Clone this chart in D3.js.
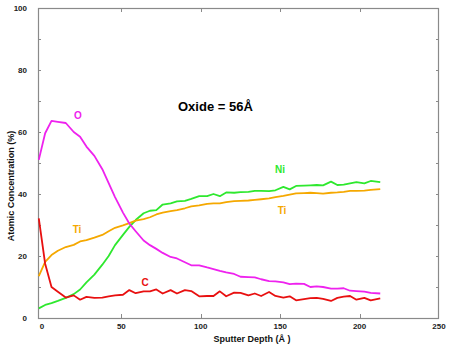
<!DOCTYPE html>
<html><head><meta charset="utf-8">
<script src="https://cdn.jsdelivr.net/npm/d3@7"></script>
<style>body{margin:0;background:#fff}svg{display:block}text{font-family:Arial,"Liberation Sans",sans-serif;font-weight:bold}</style>
</head><body>
<script>
const depth = [-2,2,6,10,15,20,24,28,33,38,42,46,51,55,59,64,68,72,76,81,85,90,94,99,104,108,112,116,121,125,130,134,138,143,147,152,156,160,165,169,173,177,182,186,190,194,198,203,207,213];
const oxygen = [51,59.6,63.6,63.3,62.9,60,58.5,55.3,52.3,48,43.5,39,34,30.5,28,25,23.5,22.3,21,19.7,19.2,18,17,17,16.3,15.8,15.2,14.7,14.2,13.3,13.2,13.1,12.5,11.9,11.8,11.5,10.9,11.1,11,10,10.2,10,9.5,9.5,9.6,8.8,8.7,8.5,8.1,7.9];
const nickel = [3.1,4.2,4.8,5.5,6.5,7.7,9.2,11.5,14,17.2,20,23.5,26.8,29.4,31.6,33.8,34.6,34.8,36.6,37,37.6,37.8,38.4,39.3,39.3,40,39.3,40.5,40.4,40.6,40.7,41,41,40.9,41.2,42.3,41.5,42.6,42.7,42.8,42.9,42.8,44,42.9,43,43.4,43.8,43.4,44.2,43.8];
const titanium = [13.5,18.1,20.3,21.7,22.9,23.6,24.7,25.1,25.9,26.8,28,29.1,29.9,30.6,31.4,31.9,32.5,33.4,34,34.5,34.8,35.4,36,36.3,36.8,37,37,37.4,37.7,37.8,37.9,38.1,38.3,38.6,39,39.4,39.8,40.2,40.3,40.4,40.3,40.1,40.4,40.5,40.7,41,41,41.1,41.3,41.6];
const carbon = [32.1,17.5,10,8.5,6.6,7.3,5.9,6.8,6.5,6.6,7,7.3,7.5,9,8,8.6,8.6,9.2,7.9,9,7.9,9,8.7,7,7.1,7.1,8.6,7,8.2,8.1,7.3,7.9,7.1,8.4,7.1,6.6,7,5.7,6.1,6.4,6.5,6.2,5.5,6.5,6.9,7.1,5.9,6.5,5.7,6.3];
const xTicks = [0,50,100,150,200,250];
const yTicks = [0,20,40,60,80,100];
const seriesNames = ["O","Ni","Ti","C"];

const W=450,H=350;
const L=38,R=439,T=8,B=318;
const x=d3.scaleLinear().domain([-2.5,250]).range([L,R]);
const y=d3.scaleLinear().domain([0,100]).range([B,T]);
const svg=d3.select("body").append("svg").attr("width",W).attr("height",H);
const grey="#8a8a8a";

// ticks
const minorY=d3.range(10,100,10);
const g=svg.append("g").attr("stroke",grey).attr("stroke-width",1);
minorY.forEach(v=>{
  g.append("line").attr("x1",L).attr("x2",L+3).attr("y1",Math.round(y(v))+0.5).attr("y2",Math.round(y(v))+0.5);
  g.append("line").attr("x1",R-3).attr("x2",R).attr("y1",Math.round(y(v))+0.5).attr("y2",Math.round(y(v))+0.5);
});
[50,100,150,200].forEach(v=>{
  g.append("line").attr("x1",Math.round(x(v))+0.5).attr("x2",Math.round(x(v))+0.5).attr("y1",T).attr("y2",T+4);
  g.append("line").attr("x1",Math.round(x(v))+0.5).attr("x2",Math.round(x(v))+0.5).attr("y1",B).attr("y2",B-4);
});
svg.append("rect").attr("x",L+0.5).attr("y",T+0.5).attr("width",R-L-1).attr("height",B-T).attr("fill","none").attr("stroke",grey).attr("stroke-width",1.2);

// tick labels
svg.append("g").selectAll("text").data(xTicks).join("text")
  .attr("x",d=>x(d)).attr("y",329).attr("text-anchor","middle").attr("font-size",8).attr("fill","#222").text(d=>d);
svg.append("g").selectAll("text").data(yTicks).join("text")
  .attr("x",27).attr("y",d=>y(d)+3).attr("text-anchor","end").attr("font-size",8).attr("fill","#222").text(d=>d);

// axis titles
svg.append("text").attr("x",252).attr("y",342).attr("text-anchor","middle").attr("font-size",9).attr("fill","#111").text("Sputter Depth (Å )");
svg.append("text").attr("transform","translate(14,186) rotate(-90)").attr("text-anchor","middle").attr("font-size",9).attr("fill","#111").text("Atomic Concentration (%)");

// lines
const line=d3.line().x((d,i)=>x(depth[i])).y(d=>y(d));
const series=[[nickel,"#2ee82e"],[titanium,"#f5a800"],[oxygen,"#ee22ee"],[carbon,"#e81010"]];
series.forEach(([vals,c])=>{
  svg.append("path").datum(vals).attr("d",line).attr("fill","none").attr("stroke",c).attr("stroke-width",1.8).attr("stroke-linejoin","round");
});

// labels
const lab=[["O",78,119,"#ee22ee"],["Ti",77,233,"#f5a800"],["C",145,286,"#e81010"],["Ni",280,173,"#2ee82e"],["Ti",282,214,"#f5a800"]];
lab.forEach(([t,lx,ly,c])=>svg.append("text").attr("x",lx).attr("y",ly).attr("text-anchor","middle").attr("font-size",10).attr("fill",c).text(t));
svg.append("text").attr("x",178).attr("y",111).attr("font-size",13).attr("fill","#000").text("Oxide = 56Å");
</script>
</body></html>
